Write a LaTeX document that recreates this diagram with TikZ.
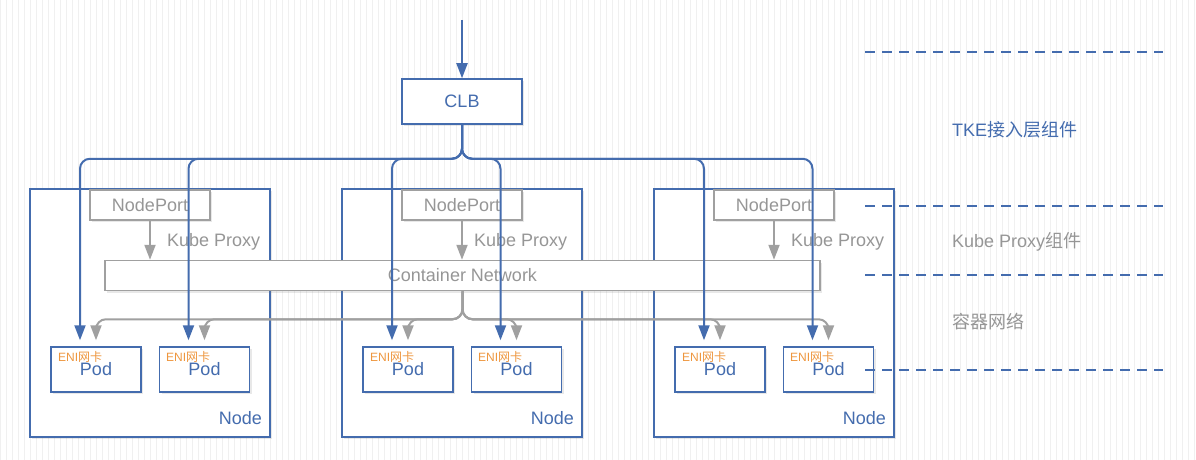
\documentclass[tikz,border=0pt]{standalone}
\usepackage{fontspec}
\setmainfont{Liberation Sans}
\newfontfamily\cjk{Noto Sans CJK SC}
\usetikzlibrary{arrows.meta,shadows}

\definecolor{clbblue}{RGB}{68,108,174}
\definecolor{netgray}{RGB}{160,160,160}
\definecolor{labelgray}{RGB}{150,150,150}
\definecolor{eniorange}{RGB}{238,150,62}
\definecolor{gridgray}{RGB}{240,240,240}

\tikzset{
  gridline/.style={draw=gridgray, line width=0.7, step=6},
  boxshadow/.style={drop shadow={shadow xshift=2pt, shadow yshift=-2pt, opacity=0.18}},
  hostbox/.style={draw=clbblue, line width=1.5, fill=white, minimum width=240, minimum height=248, boxshadow},
  clbbox/.style={draw=clbblue, line width=1.5, fill=white, minimum width=120, minimum height=45, text=clbblue, font=\fontsize{18pt}{20pt}\selectfont, boxshadow},
  portbox/.style={draw=netgray, line width=1.5, fill=white, minimum width=120, minimum height=30, text=labelgray, font=\fontsize{18pt}{20pt}\selectfont, boxshadow},
  netbox/.style={draw=netgray, line width=1.5, fill=white, minimum width=715, minimum height=30, text=labelgray, font=\fontsize{18pt}{20pt}\selectfont, boxshadow},
  podbox/.style={draw=clbblue, line width=1.5, fill=white, minimum width=90, minimum height=45, inner sep=0, text=clbblue, font=\fontsize{18pt}{20pt}\selectfont, boxshadow},
  bluetext/.style={text=clbblue, inner sep=0, font=\fontsize{18pt}{20pt}\selectfont},
  graytext/.style={text=labelgray, inner sep=0, font=\fontsize{18pt}{20pt}\selectfont},
  enitext/.style={text=eniorange, inner sep=0, font=\fontsize{12pt}{14pt}\selectfont},
  bluearrow/.style={draw=clbblue, line width=2, -{Triangle[width=11pt,length=15pt]}},
  grayarrow/.style={draw=netgray, line width=2, -{Triangle[width=11pt,length=15pt]}},
  divline/.style={draw=clbblue, line width=2, dash pattern=on 10pt off 7pt}
}

\begin{document}
\begin{tikzpicture}[x=1pt, y=-1pt]
% Canvas and background grid
\useasboundingbox (0,0) rectangle (1196,460);
\draw[gridline] (0,0) grid (1196,460);

% Node boxes
\node[hostbox] (node1) at (150,313) {};
\node[hostbox] (node2) at (462,313) {};
\node[hostbox] (node3) at (774,313) {};
\node[bluetext, anchor=base east] (node1lbl) at (262,424) {Node};
\node[bluetext, anchor=base east] (node2lbl) at (574,424) {Node};
\node[bluetext, anchor=base east] (node3lbl) at (886,424) {Node};

% NodePort boxes
\node[portbox] (port1) at (150,205) {NodePort};
\node[portbox] (port2) at (462,205) {NodePort};
\node[portbox] (port3) at (774,205) {NodePort};

% Container network across all nodes
\node[netbox] (cnet) at (462.5,275.5) {Container Network};

% Kube proxy arrows
\draw[grayarrow] (port1.south) -- (port1.south |- cnet.north);
\draw[grayarrow] (port2.south) -- (port2.south |- cnet.north);
\draw[grayarrow] (port3.south) -- (port3.south |- cnet.north);
\node[graytext, anchor=base west] (proxy1) at (167,246) {Kube Proxy};
\node[graytext, anchor=base west] (proxy2) at (474,246) {Kube Proxy};
\node[graytext, anchor=base west] (proxy3) at (791,246) {Kube Proxy};

% Pods with ENI cards
\node[podbox] (pod1a) at (96,369.5) {Pod};
\node[podbox] (pod1b) at (204.5,369.5) {Pod};
\node[podbox] (pod2a) at (408,369.5) {Pod};
\node[podbox] (pod2b) at (516.5,369.5) {Pod};
\node[podbox] (pod3a) at (720,369.5) {Pod};
\node[podbox] (pod3b) at (828.5,369.5) {Pod};
\node[enitext, anchor=base west] (eni1a) at (58,361) {ENI{\cjk 网卡}};
\node[enitext, anchor=base west] (eni1b) at (166,361) {ENI{\cjk 网卡}};
\node[enitext, anchor=base west] (eni2a) at (370,361) {ENI{\cjk 网卡}};
\node[enitext, anchor=base west] (eni2b) at (478,361) {ENI{\cjk 网卡}};
\node[enitext, anchor=base west] (eni3a) at (682,361) {ENI{\cjk 网卡}};
\node[enitext, anchor=base west] (eni3b) at (790,361) {ENI{\cjk 网卡}};

% Container network to pods
\draw[grayarrow, rounded corners=10, shorten >=6] (cnet.south) -- ++(0,28) -| (pod1a.north);
\draw[grayarrow, rounded corners=10, shorten >=6] (cnet.south) -- ++(0,28) -| (pod1b.north);
\draw[grayarrow, rounded corners=10, shorten >=6] (cnet.south) -- ++(0,28) -| (pod2a.north);
\draw[grayarrow, rounded corners=10, shorten >=6] (cnet.south) -- ++(0,28) -| (pod2b.north);
\draw[grayarrow, rounded corners=10, shorten >=6] (cnet.south) -- ++(0,28) -| (pod3a.north);
\draw[grayarrow, rounded corners=10, shorten >=6] (cnet.south) -- ++(0,28) -| (pod3b.north);

% Incoming traffic and CLB
\coordinate (entry) at (462,20);
\node[clbbox] (clb) at (462,101.5) {CLB};
\draw[bluearrow] (entry) -- (clb.north);

% CLB straight to pods
\draw[bluearrow, rounded corners=10, shorten >=6] (clb.south) -- ++(0,34) -| ([xshift=-16pt]pod1a.north);
\draw[bluearrow, rounded corners=10, shorten >=6] (clb.south) -- ++(0,34) -| ([xshift=-16pt]pod1b.north);
\draw[bluearrow, rounded corners=10, shorten >=6] (clb.south) -- ++(0,34) -| ([xshift=-16pt]pod2a.north);
\draw[bluearrow, rounded corners=10, shorten >=6] (clb.south) -- ++(0,34) -| ([xshift=-16pt]pod2b.north);
\draw[bluearrow, rounded corners=10, shorten >=6] (clb.south) -- ++(0,34) -| ([xshift=-16pt]pod3a.north);
\draw[bluearrow, rounded corners=10, shorten >=6] (clb.south) -- ++(0,34) -| ([xshift=-16pt]pod3b.north);

% Layer dividers and legend
\draw[divline] (865,52) -- (1163,52);
\draw[divline] (865,206) -- (1163,206);
\draw[divline] (865,275) -- (1163,275);
\draw[divline] (865,370) -- (1163,370);
\node[bluetext, anchor=base west] (tkelbl) at (952,136) {TKE{\cjk 接入层组件}};
\node[graytext, anchor=base west] (proxylbl) at (952,247) {Kube Proxy{\cjk 组件}};
\node[graytext, anchor=base west] (netlbl) at (952,328) {\cjk 容器网络};
\end{tikzpicture}
\end{document}
